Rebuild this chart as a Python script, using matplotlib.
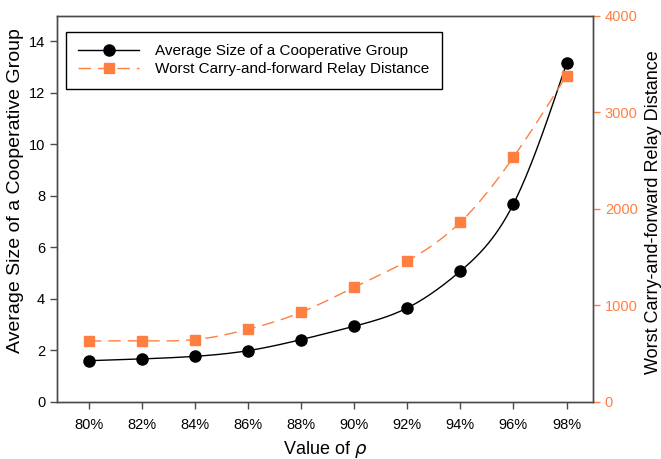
import numpy as np
import matplotlib
matplotlib.use("Agg")
import matplotlib.pyplot as plt
from matplotlib.ticker import FixedLocator

plt.rcParams['font.family'] = ['Liberation Sans', 'DejaVu Sans']
plt.rcParams['mathtext.fontset'] = 'dejavusans'

rho = [80, 82, 84, 86, 88, 90, 92, 94, 96, 98]
rho_labels = ['80%', '82%', '84%', '86%', '88%', '90%', '92%', '94%', '96%', '98%']
group_size = [1.59, 1.66, 1.76, 1.98, 2.41, 2.93, 3.64, 5.07, 7.68, 13.14]
relay_dist = [628, 630, 643, 750, 926, 1185, 1458, 1859, 2533, 3378]

ORANGE = '#FF7F40'
SPINE = '#4a4a4a'


def natural_spline(x, y, n=400):
    """Natural cubic spline through the given points, for a smooth line."""
    x = np.asarray(x, float)
    y = np.asarray(y, float)
    k = len(x)
    h = np.diff(x)
    A = np.zeros((k, k))
    b = np.zeros(k)
    A[0, 0] = A[-1, -1] = 1
    for i in range(1, k - 1):
        A[i, i - 1] = h[i - 1]
        A[i, i] = 2 * (h[i - 1] + h[i])
        A[i, i + 1] = h[i]
        b[i] = 3 * ((y[i + 1] - y[i]) / h[i] - (y[i] - y[i - 1]) / h[i - 1])
    c = np.linalg.solve(A, b)
    xs = np.linspace(x[0], x[-1], n)
    idx = np.clip(np.searchsorted(x, xs) - 1, 0, k - 2)
    dx = xs - x[idx]
    hi = h[idx]
    bi = (y[idx + 1] - y[idx]) / hi - hi * (2 * c[idx] + c[idx + 1]) / 3
    di = (c[idx + 1] - c[idx]) / (3 * hi)
    ys = y[idx] + bi * dx + c[idx] * dx ** 2 + di * dx ** 3
    return xs, ys


fig = plt.figure(figsize=(6.61, 4.59), dpi=100)
ax = fig.add_axes([0.0862, 0.125, 0.811, 0.841])
ax2 = ax.twinx()

xs, ys = natural_spline(rho, group_size)
ax.plot(xs, ys, color='black', lw=1.0, zorder=3)
ax.plot(rho, group_size, 'o', color='black', ms=8, zorder=4)
h1, = ax.plot([], [], '-o', color='black', lw=1.0, ms=8)

xs2, ys2 = natural_spline(rho, relay_dist)
ax2.plot(xs2, ys2, color=ORANGE, lw=1.0, dashes=(9, 5), zorder=3)
ax2.plot(rho, relay_dist, 's', color=ORANGE, ms=7, zorder=4)
h2, = ax.plot([], [], color=ORANGE, lw=1.0, dashes=(9, 5), marker='s', ms=7)

ax.set_xlim(78.8, 99.0)
ax.set_ylim(0, 15)
ax2.set_ylim(0, 4000)
ax.set_xticks(rho)
ax.set_xticklabels(rho_labels)
ax.set_yticks(range(0, 15, 2))
ax2.yaxis.set_major_locator(FixedLocator([0, 1000, 2000, 3000, 4000]))

for a in (ax, ax2):
    for s in a.spines.values():
        s.set_color(SPINE)
        s.set_linewidth(1.0)

ax.tick_params(axis='both', direction='out', length=5, width=1.0,
               color=SPINE, labelsize=10.5, labelcolor='black')
ax.tick_params(axis='x', pad=7)
ax2.tick_params(axis='y', direction='out', length=5, width=1.0,
                color=ORANGE, labelsize=10.5, labelcolor=ORANGE)

ax.set_xlabel(r'Value of $\rho$', fontsize=13, labelpad=5)
ax.set_ylabel('Average Size of a Cooperative Group', fontsize=14)
ax.yaxis.set_label_coords(-0.062, 0.548)
ax2.set_ylabel('Worst Carry-and-forward Relay Distance', fontsize=13)
ax2.yaxis.set_label_coords(1.096, 0.49)

leg = ax.legend([h1, h2],
                ['Average Size of a Cooperative Group',
                 'Worst Carry-and-forward Relay Distance'],
                loc='upper left', bbox_to_anchor=(0.0168, 0.9585),
                borderaxespad=0, fontsize=11, handlelength=4.0,
                handletextpad=1.05, borderpad=0.8, labelspacing=0.3,
                fancybox=False, framealpha=1, edgecolor='black')
leg.get_frame().set_linewidth(1.0)

fig.savefig('out.png', dpi=100)
